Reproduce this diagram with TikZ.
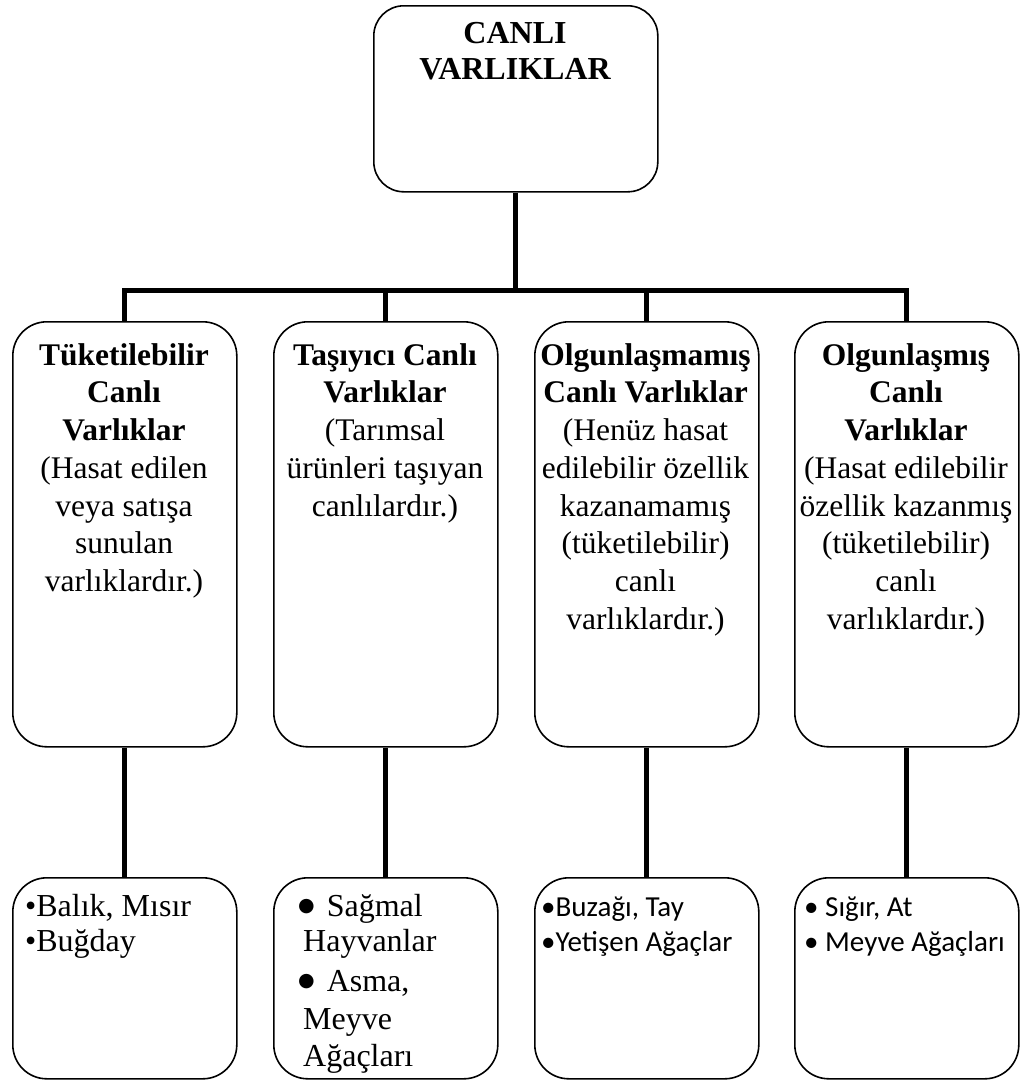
\documentclass[tikz,border=0pt]{standalone}
\usepackage{fontspec}
\setmainfont{Liberation Serif}
\newfontfamily\carlitofont{Carlito}
\newfontfamily\dejavufont{DejaVu Sans}
% fixed-height strut so a node's north edge sits a known distance above the first baseline
\newcommand\firstlinestrut{\rule{0pt}{24pt}}
\newcommand\bigbullet{{\dejavufont\fontsize{19}{35}\selectfont\raisebox{4.5pt}{●}}}
\begin{document}
\begin{tikzpicture}[x=1pt,y=-1pt,
  panel/.style={draw=black, line width=1.6pt, rounded corners=34pt, inner sep=0pt,
                anchor=north west, minimum width=224pt},
  wire/.style={line width=5pt, line join=miter},
  caption/.style={anchor=north, align=center, inner sep=0pt,
                  font=\fontsize{31.5}{37.7}\selectfont},
  itemlist/.style={anchor=north west, align=left, inner sep=0pt,
                   font=\fontsize{32}{35}\selectfont},
  sansitems/.style={anchor=north west, align=left, inner sep=0pt,
                    font=\carlitofont\fontsize{29}{35}\selectfont}]
\useasboundingbox (0,0) rectangle (1024,1082);

% root
\node[panel, minimum width=284pt, minimum height=186pt, rounded corners=30pt] (root) at (373,5) {};
\node[anchor=north, align=center, inner sep=0pt,
      font=\bfseries\fontsize{32}{36}\selectfont] (rootlabel) at (515,19)
      {\firstlinestrut CANLI\\VARLIKLAR};

% category panels
\node[panel, minimum height=425pt] (m1) at (12,321) {};
\node[panel, minimum height=425pt] (m2) at (273,321) {};
\node[panel, minimum height=425pt] (m3) at (534,321) {};
\node[panel, minimum height=425pt] (m4) at (794,321) {};

\node[caption] (m1text) at (124,341)
  {\firstlinestrut\textbf{Tüketilebilir}\\\textbf{Canlı}\\\textbf{Varlıklar}\\(Hasat edilen\\veya satışa\\sunulan\\varlıklardır.)};
\node[caption] (m2text) at (385,341)
  {\firstlinestrut\textbf{Taşıyıcı Canlı}\\\textbf{Varlıklar}\\(Tarımsal\\ürünleri taşıyan\\canlılardır.)};
\node[caption] (m3text) at (645.5,341)
  {\firstlinestrut\textbf{Olgunlaşmamış}\\\textbf{Canlı Varlıklar}\\(Henüz hasat\\edilebilir özellik\\kazanamamış\\(tüketilebilir)\\canlı\\varlıklardır.)};
\node[caption] (m4text) at (906,341)
  {\firstlinestrut\textbf{Olgunlaşmış}\\\textbf{Canlı}\\\textbf{Varlıklar}\\(Hasat edilebilir\\özellik kazanmış\\(tüketilebilir)\\canlı\\varlıklardır.)};

% example panels
\node[panel, minimum height=201pt] (b1) at (12,877) {};
\node[panel, minimum height=201pt] (b2) at (273,877) {};
\node[panel, minimum height=201pt] (b3) at (534,877) {};
\node[panel, minimum height=201pt] (b4) at (794,877) {};

\node[itemlist] (b1text) at (25,892)
  {\firstlinestrut•Balık, Mısır\\•Buğday};
\node[itemlist] (b2text) at (298,892)
  {\firstlinestrut\bigbullet\hspace*{12pt}Sağmal\\
   \hspace*{5pt}Hayvanlar\\[5pt]
   \bigbullet\hspace*{12pt}Asma,\\[3pt]
   \hspace*{5pt}Meyve\\[2pt]
   \hspace*{5pt}Ağaçları};
\node[sansitems] (b3text) at (541,892)
  {\firstlinestrut•Buzağı, Tay\\•Yetişen Ağaçlar};
\node[sansitems] (b4text) at (804,892)
  {\firstlinestrut• Sığır, At\\• Meyve Ağaçları};

% connectors
\coordinate (bus) at (515,290);
\draw[wire] (root.south) -- (root.south |- bus);
\draw[wire] (m1.north) -- (m1.north |- bus) -- (m4.north |- bus) -- (m4.north);
\draw[wire] (m2.north) -- (m2.north |- bus);
\draw[wire] (m3.north) -- (m3.north |- bus);
\draw[wire] (m1.south) -- (b1.north);
\draw[wire] (m2.south) -- (b2.north);
\draw[wire] (m3.south) -- (b3.north);
\draw[wire] (m4.south) -- (b4.north);
\end{tikzpicture}
\end{document}
